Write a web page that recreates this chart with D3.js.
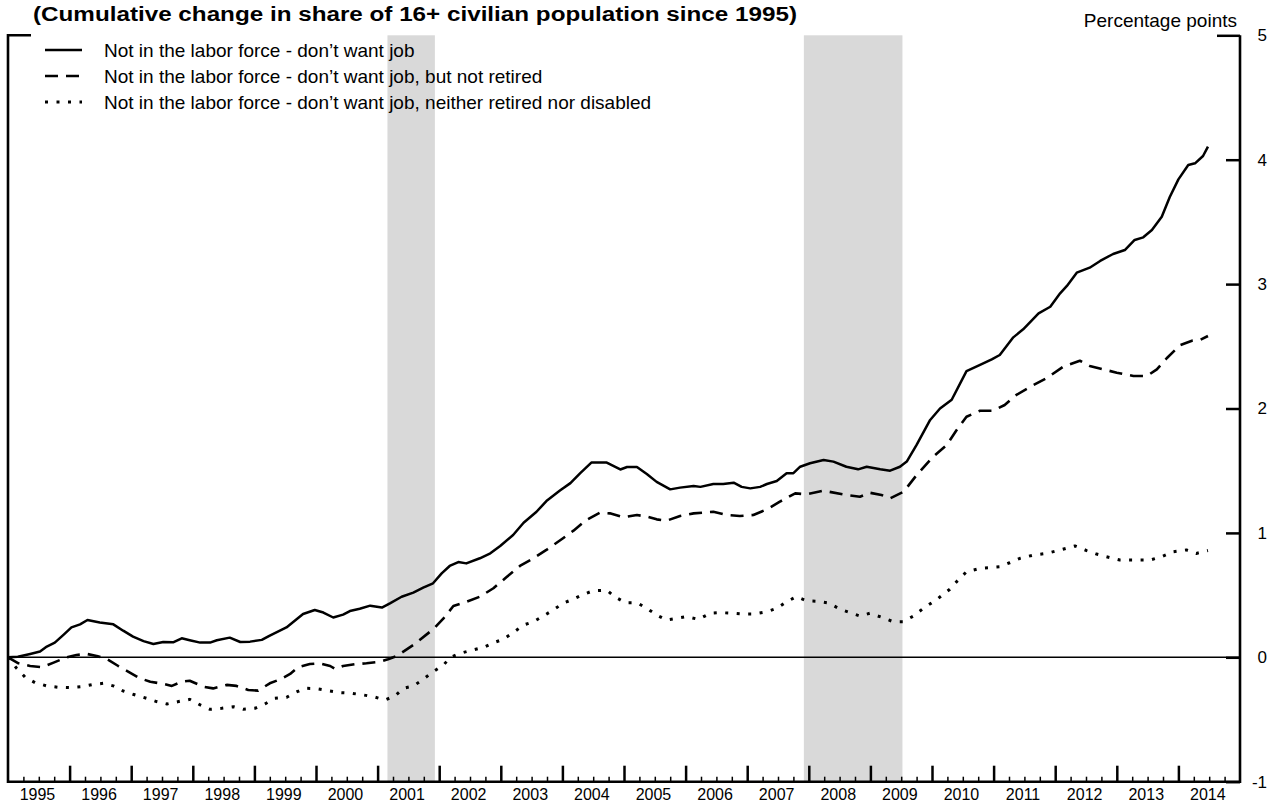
<!DOCTYPE html>
<html>
<head>
<meta charset="utf-8">
<script src="https://cdn.jsdelivr.net/npm/d3@7"></script>
<style>
  html, body { margin: 0; padding: 0; background: #fff; }
  svg { display: block; font-family: "Liberation Sans", Arial, sans-serif; }
</style>
</head>
<body>
<svg id="chart" width="1271" height="803"></svg>
<script>
/* Not in the labor force - don't want job (cumulative change since 1995, pp) */
const dontWantDates = [1995.00, 1995.16, 1995.36, 1995.52, 1995.63, 1995.76, 1995.90, 1996.03, 1996.17, 1996.29,
  1996.49, 1996.71, 1996.87, 1997.03, 1997.20, 1997.36, 1997.52, 1997.68, 1997.82, 1997.95,
  1998.12, 1998.28, 1998.39, 1998.60, 1998.77, 1998.93, 1999.12, 1999.25, 1999.52, 1999.66,
  1999.79, 1999.98, 2000.12, 2000.28, 2000.44, 2000.55, 2000.71, 2000.88, 2001.07, 2001.20,
  2001.39, 2001.58, 2001.74, 2001.90, 2002.04, 2002.17, 2002.31, 2002.44, 2002.66, 2002.83,
  2002.99, 2003.20, 2003.37, 2003.58, 2003.74, 2003.96, 2004.13, 2004.29, 2004.47, 2004.72,
  2004.94, 2005.05, 2005.21, 2005.37, 2005.53, 2005.75, 2005.91, 2006.13, 2006.24, 2006.45,
  2006.61, 2006.78, 2006.91, 2007.05, 2007.21, 2007.32, 2007.48, 2007.64, 2007.75, 2007.86,
  2008.02, 2008.24, 2008.40, 2008.61, 2008.80, 2008.94, 2009.16, 2009.32, 2009.48, 2009.59,
  2009.75, 2009.97, 2010.13, 2010.32, 2010.56, 2010.78, 2010.97, 2011.10, 2011.32, 2011.48,
  2011.73, 2011.92, 2012.08, 2012.19, 2012.35, 2012.56, 2012.73, 2012.94, 2013.13, 2013.29,
  2013.43, 2013.57, 2013.73, 2013.86, 2014.00, 2014.16, 2014.27, 2014.40, 2014.48]
const dontWantValues = [0, 0.005, 0.027, 0.046, 0.086, 0.118, 0.18, 0.24, 0.265, 0.30,
  0.28, 0.265, 0.214, 0.166, 0.13, 0.107, 0.123, 0.12, 0.153, 0.137,
  0.118, 0.118, 0.137, 0.158, 0.123, 0.126, 0.14, 0.174, 0.24, 0.295,
  0.348, 0.38, 0.36, 0.32, 0.343, 0.372, 0.39, 0.415, 0.40, 0.434,
  0.487, 0.52, 0.56, 0.595, 0.675, 0.734, 0.766, 0.755, 0.796, 0.836,
  0.895, 0.983, 1.082, 1.17, 1.256, 1.34, 1.40, 1.48, 1.565, 1.565,
  1.51, 1.53, 1.53, 1.474, 1.41, 1.35, 1.364, 1.377, 1.37, 1.393,
  1.393, 1.404, 1.37, 1.358, 1.37, 1.393, 1.417, 1.48, 1.48, 1.532,
  1.56, 1.586, 1.573, 1.532, 1.511, 1.532, 1.511, 1.50, 1.532, 1.573,
  1.707, 1.908, 2.0, 2.07, 2.30, 2.35, 2.395, 2.43, 2.572, 2.637,
  2.765, 2.818, 2.926, 2.985, 3.092, 3.132, 3.186, 3.242, 3.274, 3.355,
  3.376, 3.435, 3.542, 3.70, 3.842, 3.957, 3.971, 4.03, 4.105]

/* ... don't want job, but not retired */
const notRetiredDates = [1995.00, 1995.17, 1995.36, 1995.55, 1995.74, 1995.95, 1996.11, 1996.28, 1996.44, 1996.60,
  1996.79, 1996.95, 1997.14, 1997.31, 1997.52, 1997.66, 1997.82, 1997.95, 1998.17, 1998.33,
  1998.55, 1998.71, 1998.90, 1999.06, 1999.25, 1999.42, 1999.58, 1999.71, 1999.90, 2000.06,
  2000.23, 2000.31, 2000.44, 2000.63, 2000.82, 2001.04, 2001.17, 2001.31, 2001.58, 2001.90,
  2002.07, 2002.23, 2002.45, 2002.66, 2002.88, 2003.09, 2003.31, 2003.53, 2003.74, 2004.01,
  2004.18, 2004.39, 2004.61, 2004.77, 2004.99, 2005.21, 2005.37, 2005.53, 2005.69, 2005.91,
  2006.13, 2006.45, 2006.67, 2006.88, 2007.10, 2007.32, 2007.53, 2007.78, 2007.96, 2008.24,
  2008.61, 2008.83, 2008.99, 2009.18, 2009.32, 2009.54, 2009.75, 2010.02, 2010.24, 2010.40,
  2010.56, 2010.78, 2010.99, 2011.18, 2011.37, 2011.65, 2011.86, 2012.13, 2012.40, 2012.56,
  2012.78, 2013.00, 2013.27, 2013.49, 2013.65, 2013.81, 2014.03, 2014.22, 2014.35, 2014.48]
const notRetiredValues = [0, -0.048, -0.07, -0.08, -0.043, 0, 0.019, 0.027, 0.011, -0.013,
  -0.07, -0.115, -0.169, -0.196, -0.214, -0.23, -0.196, -0.188, -0.236, -0.25,
  -0.222, -0.23, -0.263, -0.268, -0.209, -0.177, -0.134, -0.08, -0.054, -0.048,
  -0.07, -0.094, -0.07, -0.056, -0.048, -0.035, -0.016, 0.01, 0.099, 0.225,
  0.313, 0.412, 0.447, 0.487, 0.555, 0.643, 0.734, 0.796, 0.863, 0.957,
  1.018, 1.104, 1.162, 1.157, 1.125, 1.144, 1.131, 1.109, 1.098, 1.136,
  1.157, 1.17, 1.144, 1.136, 1.144, 1.19, 1.251, 1.318, 1.31, 1.339,
  1.305, 1.291, 1.323, 1.305, 1.278, 1.331, 1.465, 1.613, 1.707, 1.827,
  1.934, 1.982, 1.982, 2.028, 2.109, 2.189, 2.243, 2.336, 2.384, 2.342,
  2.315, 2.288, 2.261, 2.261, 2.315, 2.404, 2.51, 2.545, 2.55, 2.583]

/* ... don't want job, neither retired nor disabled */
const notRetDisDates = [1995.00, 1995.14, 1995.28, 1995.44, 1995.63, 1995.82, 1996.01, 1996.20, 1996.36, 1996.55,
  1996.71, 1996.87, 1997.03, 1997.25, 1997.41, 1997.58, 1997.77, 1997.95, 1998.12, 1998.28,
  1998.47, 1998.66, 1998.82, 1999.01, 1999.17, 1999.33, 1999.52, 1999.66, 1999.82, 2000.01,
  2000.20, 2000.39, 2000.58, 2000.77, 2000.93, 2001.12, 2001.28, 2001.42, 2001.58, 2001.74,
  2001.90, 2002.07, 2002.18, 2002.34, 2002.55, 2002.72, 2002.88, 2003.04, 2003.20, 2003.37,
  2003.53, 2003.69, 2003.85, 2004.01, 2004.18, 2004.34, 2004.50, 2004.72, 2004.85, 2005.02,
  2005.21, 2005.37, 2005.53, 2005.69, 2005.85, 2006.02, 2006.21, 2006.40, 2006.56, 2006.78,
  2006.94, 2007.10, 2007.32, 2007.48, 2007.64, 2007.80, 2007.96, 2008.13, 2008.32, 2008.51,
  2008.67, 2008.83, 2008.99, 2009.18, 2009.37, 2009.53, 2009.70, 2009.86, 2010.08, 2010.29,
  2010.40, 2010.56, 2010.78, 2011.10, 2011.26, 2011.43, 2011.65, 2011.86, 2012.08, 2012.32,
  2012.51, 2012.67, 2012.83, 2013.05, 2013.27, 2013.54, 2013.73, 2013.92, 2014.13, 2014.29,
  2014.48]
const notRetDisValues = [0, -0.088, -0.161, -0.204, -0.23, -0.241, -0.244, -0.236, -0.22, -0.209,
  -0.23, -0.271, -0.297, -0.33, -0.356, -0.375, -0.356, -0.338, -0.383, -0.418,
  -0.41, -0.397, -0.418, -0.41, -0.375, -0.33, -0.322, -0.284, -0.249, -0.252,
  -0.268, -0.284, -0.289, -0.303, -0.316, -0.343, -0.311, -0.249, -0.231, -0.177,
  -0.116, -0.062, 0, 0.032, 0.059, 0.08, 0.117, 0.145, 0.198, 0.26,
  0.286, 0.332, 0.38, 0.434, 0.469, 0.506, 0.535, 0.54, 0.487, 0.439,
  0.439, 0.394, 0.34, 0.30, 0.313, 0.327, 0.305, 0.354, 0.359, 0.354,
  0.348, 0.348, 0.367, 0.394, 0.447, 0.487, 0.455, 0.451, 0.437, 0.386,
  0.359, 0.332, 0.354, 0.322, 0.286, 0.286, 0.332, 0.394, 0.466, 0.547,
  0.608, 0.688, 0.715, 0.728, 0.76, 0.796, 0.822, 0.835, 0.863, 0.895,
  0.858, 0.83, 0.809, 0.782, 0.782, 0.782, 0.809, 0.849, 0.863, 0.835,
  0.858]

const seriesNames = [
  "Not in the labor force - don\u2019t want job",
  "Not in the labor force - don\u2019t want job, but not retired",
  "Not in the labor force - don\u2019t want job, neither retired nor disabled"
]
const recessions = [[2001.16, 2001.93], [2007.92, 2009.52]]
const yearLabels = d3.range(1995, 2015)
const yTicks = [-1, 0, 1, 2, 3, 4, 5]
const titleText = "(Cumulative change in share of 16+ civilian population since 1995)"
const unitText = "Percentage points"

const plotLeft = 8, plotRight = 1240, plotTop = 35.3, plotBottom = 781.7

const x = d3.scaleLinear().domain([1995, 2015]).range([plotLeft, plotRight])
const y = d3.scaleLinear().domain([-1, 5]).range([plotBottom, plotTop])

const svg = d3.select("#chart")

// recession bars
svg.append("g").selectAll("rect")
  .data(recessions)
  .enter()
  .append("rect")
  .attr("x", d => x(d[0]))
  .attr("width", d => x(d[1]) - x(d[0]))
  .attr("y", plotTop)
  .attr("height", plotBottom - plotTop)
  .attr("fill", "#d9d9d9")

// zero line
svg.append("line")
  .attr("x1", plotLeft).attr("x2", plotRight)
  .attr("y1", y(0)).attr("y2", y(0))
  .attr("stroke", "#000").attr("stroke-width", 1.5)

// series
const styles = [
  { dash: null, width: 2.5 },
  { dash: "13,8", width: 2.6 },
  { dash: "3,8.5", width: 3 }
]
const series = [
  dontWantDates.map((d, i) => [d, dontWantValues[i]]),
  notRetiredDates.map((d, i) => [d, notRetiredValues[i]]),
  notRetDisDates.map((d, i) => [d, notRetDisValues[i]])
]
const line = d3.line().x(d => x(d[0])).y(d => y(d[1]))

svg.append("g").selectAll("path")
  .data(series)
  .enter()
  .append("path")
  .attr("d", line)
  .attr("fill", "none")
  .attr("stroke", "#000")
  .attr("stroke-width", (d, i) => styles[i].width)
  .attr("stroke-dasharray", (d, i) => styles[i].dash)
  .attr("stroke-linejoin", "round")

// bottom axis: quarterly minor ticks, yearly major ticks
const quarters = d3.range(1995, 2015, 0.25).filter(d => d % 1 !== 0)
const axisMinor = d3.axisBottom(x).tickValues(quarters).tickSize(-5).tickFormat("")
const axisMajor = d3.axisBottom(x).tickValues(d3.range(1996, 2015)).tickSize(-16).tickFormat("")
const axisLabels = d3.axisBottom(x).tickValues(yearLabels.map(d => d + 0.47)).tickSize(0).tickPadding(7)
  .tickFormat(d => Math.floor(d))

const gMinor = svg.append("g").attr("transform", `translate(0,${plotBottom})`).call(axisMinor)
gMinor.selectAll("line").attr("stroke-width", 1.5)
const gMajor = svg.append("g").attr("transform", `translate(0,${plotBottom})`).call(axisMajor)
gMajor.selectAll("line").attr("stroke-width", 2.5)
const gLabels = svg.append("g").attr("transform", `translate(0,${plotBottom})`).call(axisLabels)
gLabels.selectAll("text").attr("font-size", 16).attr("font-family", null).attr("fill", "#000")
svg.selectAll(".domain").remove()

// right axis
const axisRight = d3.axisRight(y).tickValues(yTicks).tickSize(-14).tickPadding(0).tickFormat(d3.format("d"))
const gRight = svg.append("g").attr("transform", `translate(${plotRight},0)`).call(axisRight)
gRight.select(".domain").remove()
gRight.selectAll("line").attr("stroke-width", 2.5)
  .attr("x2", d => d === 5 ? -23 : -14)
gRight.selectAll("text")
  .attr("x", 27).attr("text-anchor", "end")
  .attr("font-size", 17).attr("font-family", null).attr("fill", "#000")
  .text(d => d < 0 ? "-" + Math.abs(d) : d)

// frame: left, right and bottom rules plus top-left tick
const frame = svg.append("g").attr("stroke", "#000").attr("fill", "none")
frame.append("path")
  .attr("d", `M${plotLeft + 23},${plotTop}H${plotLeft}V${plotBottom}H${plotRight}V${plotTop}`)
  .attr("stroke-width", 2.6)

// title and unit
svg.append("text")
  .attr("x", 33).attr("y", 20.7)
  .attr("font-size", 19.5).attr("font-weight", "bold")
  .attr("textLength", 764).attr("lengthAdjust", "spacingAndGlyphs")
  .text(titleText)

svg.append("text")
  .attr("x", 1237).attr("y", 26.7)
  .attr("text-anchor", "end").attr("font-size", 19)
  .text(unitText)

// legend
const legend = svg.append("g").selectAll("g")
  .data(seriesNames)
  .enter()
  .append("g")
  .attr("transform", (d, i) => `translate(0,${50 + i * 26})`)

legend.append("line")
  .attr("x1", 45).attr("x2", (d, i) => i === 1 ? 79 : 82)
  .attr("stroke", "#000")
  .attr("stroke-width", (d, i) => styles[i].width)
  .attr("stroke-dasharray", (d, i) => styles[i].dash)

legend.append("text")
  .attr("x", 104).attr("y", 7)
  .attr("font-size", 19)
  .text(d => d)
</script>
</body>
</html>
